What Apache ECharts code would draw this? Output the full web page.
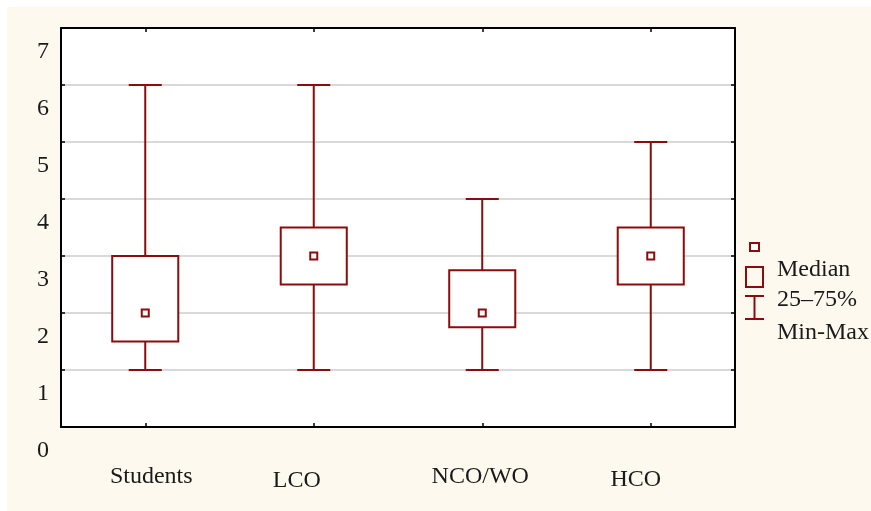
<!DOCTYPE html>
<html>
<head>
<meta charset="utf-8">
<script src="https://cdn.jsdelivr.net/npm/echarts@6/dist/echarts.min.js"></script>
<style>
html,body{margin:0;padding:0;background:#ffffff;}
#c{width:871px;height:511px;}
</style>
</head>
<body>
<div id="c"></div>
<script>
var categories = ['Students', 'LCO', 'NCO/WO', 'HCO'];
var minVals = [1, 1, 1, 1];
var q1Vals = [1.5, 2.5, 1.75, 2.5];
var medianVals = [2, 3, 2, 3];
var q3Vals = [3, 3.5, 2.75, 3.5];
var maxVals = [6, 6, 4, 5];
var yTicks = [0, 1, 2, 3, 4, 5, 6, 7];
var legendLabels = ['Median', '25\u201375%', 'Min-Max'];

var RED = '#8b0c0c';
var FONT = 'Liberation Serif, Times New Roman, serif';
var TXT = '#1a1a1a';

var chart = echarts.init(document.getElementById('c'), null, {renderer: 'canvas'});

var boxData = categories.map(function (c, i) {
  return [i, minVals[i], q1Vals[i], medianVals[i], q3Vals[i], maxVals[i]];
});

// per-label shifts (rich styles)
var labelRich = {
  s0: {padding: [0, 0, 0, 12], fontSize: 24, fontFamily: FONT, color: TXT},
  s1: {padding: [4, 34, 0, 0], fontSize: 24, fontFamily: FONT, color: TXT},
  s2: {padding: [0, 4, 0, 0], fontSize: 24, fontFamily: FONT, color: TXT},
  s3: {padding: [3, 30, 0, 0], fontSize: 24, fontFamily: FONT, color: TXT}
};

function renderBox(params, api) {
  var i = api.value(0);
  var pMin = api.coord([i, api.value(1)]);
  var pQ1 = api.coord([i, api.value(2)]);
  var pMed = api.coord([i, api.value(3)]);
  var pQ3 = api.coord([i, api.value(4)]);
  var pMax = api.coord([i, api.value(5)]);
  var band = api.size([1, 0])[0];
  var bw = band * 0.392;
  var cw = band * 0.196;
  var x = pMin[0];
  var ls = {stroke: RED, lineWidth: 2, fill: null};
  return {
    type: 'group',
    children: [
      {type: 'line', shape: {x1: x, y1: pQ3[1], x2: x, y2: pMax[1]}, style: ls},
      {type: 'line', shape: {x1: x - cw / 2, y1: pMax[1], x2: x + cw / 2, y2: pMax[1]}, style: ls},
      {type: 'line', shape: {x1: x, y1: pQ1[1], x2: x, y2: pMin[1]}, style: ls},
      {type: 'line', shape: {x1: x - cw / 2, y1: pMin[1], x2: x + cw / 2, y2: pMin[1]}, style: ls},
      {type: 'rect', shape: {x: x - bw / 2, y: pQ3[1], width: bw, height: pQ1[1] - pQ3[1]},
        style: {stroke: RED, lineWidth: 2, fill: '#ffffff'}},
      {type: 'rect', shape: {x: x - 3.5, y: pMed[1] - 3.5, width: 7, height: 7},
        style: {stroke: RED, lineWidth: 2, fill: '#ffffff'}}
    ]
  };
}

var option = {
  animation: false,
  backgroundColor: '#ffffff',
  grid: {left: 61, top: 28, right: 136, bottom: 84, show: true, backgroundColor: '#ffffff', borderWidth: 0},
  xAxis: [{
    type: 'category',
    data: categories,
    boundaryGap: true,
    axisLine: {show: true, lineStyle: {color: '#000', width: 2}},
    axisTick: {show: true, inside: true, alignWithLabel: true, length: 4, lineStyle: {color: '#000', width: 1.5}},
    axisLabel: {
      margin: 38,
      verticalAlign: 'top',
      formatter: function (v) {
        var i = categories.indexOf(v);
        return '{s' + i + '|' + v + '}';
      },
      rich: labelRich
    },
    splitLine: {show: false}
  }, {
    type: 'category',
    position: 'top',
    data: categories,
    boundaryGap: true,
    axisLine: {show: true, onZero: false, lineStyle: {color: '#000', width: 2}},
    axisTick: {show: true, inside: true, alignWithLabel: true, length: 4, lineStyle: {color: '#000', width: 1.5}},
    axisLabel: {show: false},
    splitLine: {show: false}
  }],
  yAxis: [{
    type: 'value',
    min: yTicks[0],
    max: yTicks[yTicks.length - 1],
    interval: 1,
    axisLine: {show: true, lineStyle: {color: '#000', width: 2}},
    axisTick: {show: true, inside: true, length: 4, lineStyle: {color: '#000', width: 1.5}},
    axisLabel: {
      margin: 12,
      verticalAlign: 'top',
      formatter: function (v) { return '{n|' + v + '}'; },
      rich: {n: {fontSize: 24, fontFamily: FONT, color: TXT, padding: [12, 0, 0, 0]}},
      showMinLabel: true,
      showMaxLabel: true
    },
    splitLine: {show: true, lineStyle: {color: '#d9d9d9', width: 2}}
  }, {
    type: 'value',
    position: 'right',
    min: yTicks[0],
    max: yTicks[yTicks.length - 1],
    interval: 1,
    axisLine: {show: true, onZero: false, lineStyle: {color: '#000', width: 2}},
    axisTick: {show: true, inside: true, length: 4, lineStyle: {color: '#000', width: 1.5}},
    axisLabel: {show: false},
    splitLine: {show: false}
  }],
  graphic: [
    {type: 'rect', z: -10, silent: true, shape: {x: 7, y: 7, width: 864, height: 504}, style: {fill: '#fef9ef'}},
    {type: 'rect', shape: {x: 750, y: 243, width: 9, height: 8}, style: {stroke: RED, lineWidth: 2, fill: '#ffffff'}},
    {type: 'rect', shape: {x: 746, y: 267, width: 17, height: 20}, style: {stroke: RED, lineWidth: 2, fill: null}},
    {type: 'line', shape: {x1: 745, y1: 296, x2: 764, y2: 296}, style: {stroke: RED, lineWidth: 2}},
    {type: 'line', shape: {x1: 745, y1: 319, x2: 764, y2: 319}, style: {stroke: RED, lineWidth: 2}},
    {type: 'line', shape: {x1: 754.5, y1: 296, x2: 754.5, y2: 319}, style: {stroke: RED, lineWidth: 2}},
    {type: 'text', x: 777, y: 270, style: {text: legendLabels[0], font: '24px ' + FONT, fill: TXT, verticalAlign: 'middle'}},
    {type: 'text', x: 777, y: 300, style: {text: legendLabels[1], font: '24px ' + FONT, fill: TXT, verticalAlign: 'middle'}},
    {type: 'text', x: 777, y: 333, style: {text: legendLabels[2], font: '24px ' + FONT, fill: TXT, verticalAlign: 'middle'}}
  ],
  series: [{
    type: 'custom',
    renderItem: renderBox,
    data: boxData,
    encode: {x: 0, y: [1, 2, 3, 4, 5]},
    z: 5
  }]
};
chart.setOption(option);
</script>
</body>
</html>
